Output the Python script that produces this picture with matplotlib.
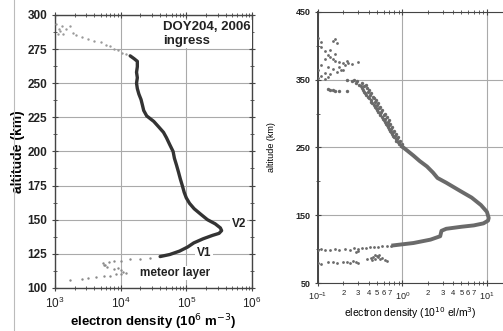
import numpy as np
import matplotlib.pyplot as plt
from matplotlib.ticker import LogLocator, FuncFormatter, MultipleLocator, NullFormatter

plt.rcParams['font.family'] = ['Liberation Sans', 'DejaVu Sans']

# ---- left panel: DOY204, 2006 ingress (density in 1e6 m^-3) ----
top_sparse_ne = [1.05e3, 1.15e3, 1.3e3, 1.2e3, 1.5e3, 1.7e3, 1.35e3, 1.9e3, 2.1e3, 1.1e3,
                 2.6e3, 3.2e3, 4.0e3, 5.0e3, 6.0e3, 7.0e3, 8.0e3, 9.0e3, 1.05e4, 1.2e4]
top_sparse_alt = [293, 290, 292, 288, 290, 292, 286, 287, 285, 286,
                  284, 282, 281, 280, 278, 277, 275, 274, 272, 271]

core_ne = [1.4e4, 1.6e4, 1.8e4, 1.8e4, 1.75e4, 1.8e4, 1.75e4, 1.8e4, 1.9e4, 2.05e4,
           2.15e4, 2.25e4, 2.5e4, 3.2e4, 3.8e4, 4.5e4, 5.0e4, 5.6e4, 6.3e4, 6.6e4,
           7.1e4, 7.6e4, 8.1e4, 8.7e4, 9.3e4, 1.0e5, 1.12e5, 1.32e5, 1.66e5, 2.1e5,
           2.75e5, 3.3e5, 3.45e5, 3.15e5, 2.5e5, 1.8e5, 1.3e5, 1.05e5, 7.9e4, 5.6e4, 4.0e4]
core_alt = [270, 268, 266, 262, 258, 254, 250, 246, 242, 238,
            234, 230, 226, 222, 218, 214, 210, 205, 200, 195,
            190, 185, 180, 175, 170, 166, 162, 158, 154, 150,
            147, 144, 142, 140, 138.5, 136, 133, 130, 127, 124.5, 123]

low_sparse_ne = [2.8e4, 2.0e4, 1.4e4, 1.0e4, 8.0e3, 6.6e3, 5.4e3, 5.8e3, 6.2e3, 5.6e3,
                 8.0e3, 9.0e3, 1.0e4, 1.1e4, 1.2e4, 1.0e4, 8.5e3, 7.0e3, 5.6e3, 4.2e3,
                 3.2e3, 2.6e3, 1.7e3]
low_sparse_alt = [122, 121.5, 121, 120, 119.5, 119, 118, 116.5, 115.5, 117,
                  114, 114.5, 113, 112, 111, 110.5, 110, 109, 108.5, 108,
                  107, 106.5, 106]

# ---- right panel (density in 1e10 el/m^3) ----
r_top_ne = [0.10, 0.11, 0.16, 0.17, 0.15, 0.11, 0.12, 0.13, 0.14, 0.16, 0.12, 0.14,
            0.16, 0.18, 0.20, 0.22, 0.25, 0.30, 0.11, 0.13, 0.15, 0.17, 0.19, 0.10,
            0.12, 0.11, 0.13, 0.10, 0.14, 0.12, 0.18, 0.21, 0.23, 0.15, 0.20]
r_top_alt = [411, 406, 410, 404, 407, 398, 392, 386, 394, 388, 380, 383,
             378, 376, 374, 377, 373, 376, 372, 368, 366, 362, 364, 365,
             360, 356, 354, 352, 358, 351, 369, 371, 375, 381, 365]

r_band_ne = [0.22, 0.27, 0.29, 0.25, 0.33, 0.28, 0.31, 0.37, 0.35, 0.32,
             0.38, 0.33, 0.34, 0.40, 0.39, 0.35, 0.36, 0.43, 0.41, 0.37,
             0.39, 0.45, 0.46, 0.40, 0.42, 0.49, 0.47, 0.43, 0.44, 0.52,
             0.50, 0.46, 0.47, 0.55, 0.53, 0.49, 0.50, 0.58, 0.56, 0.52,
             0.54, 0.62, 0.60, 0.55, 0.58, 0.66, 0.63, 0.59, 0.61, 0.70,
             0.67, 0.62, 0.64, 0.72, 0.70, 0.66, 0.67, 0.76, 0.73, 0.69,
             0.71, 0.80, 0.77, 0.73, 0.75, 0.84, 0.81, 0.78, 0.80, 0.88,
             0.86, 0.83, 0.85, 0.93, 0.91, 0.88, 0.92, 0.99, 0.97, 0.95,
             0.14, 0.16, 0.18, 0.22, 0.13, 0.15]
r_band_alt = [350, 350, 347.5, 347.5, 345, 345, 342.5, 342.5, 340, 340,
              337.5, 337.5, 335, 335, 332.5, 332.5, 330, 330, 327.5, 327.5,
              325, 325, 322.5, 322.5, 320, 320, 317.5, 317.5, 315, 315,
              312.5, 312.5, 310, 310, 307.5, 307.5, 305, 305, 302.5, 302.5,
              300, 300, 297.5, 297.5, 295, 295, 292.5, 292.5, 290, 290,
              287.5, 287.5, 285, 285, 282.5, 282.5, 280, 280, 277.5, 277.5,
              275, 275, 272.5, 272.5, 270, 270, 267.5, 267.5, 265, 265,
              262.5, 262.5, 260, 260, 257.5, 257.5, 255, 255, 252.5, 252.5,
              335, 334, 334, 333, 336, 335]

r_core_ne = [1.0, 1.15, 1.35, 1.6, 1.95, 2.3, 2.6, 3.3, 4.8, 6.6, 8.5, 10.0, 10.5, 10.3, 9.1,
             7.0, 5.0, 3.3, 2.9, 2.8, 2.15, 1.35, 0.78]
r_core_alt = [251, 245, 238, 230, 222, 213, 205, 198, 186, 176, 165, 155, 146, 142, 138,
              135, 133, 130, 127, 119, 114, 109, 105.5]

r_low_ne = [0.10, 0.11, 0.12, 0.14, 0.16, 0.18, 0.21, 0.24, 0.27, 0.30, 0.28, 0.30,
            0.33, 0.37, 0.41, 0.46, 0.52, 0.58, 0.65, 0.73,
            0.10, 0.11, 0.13, 0.15, 0.17, 0.20, 0.22, 0.24, 0.26, 0.28, 0.30,
            0.38, 0.42, 0.45, 0.48, 0.50, 0.52, 0.55, 0.58, 0.62, 0.66, 0.44, 0.47, 0.53]
r_low_alt = [99, 99.5, 98.5, 99, 99.5, 98, 100, 99, 101, 100, 96, 97,
             101.5, 102, 102.5, 103, 103.5, 104, 104.5, 105,
             80, 78, 80.5, 81, 79.5, 80.5, 81.5, 80, 82, 81, 80,
             85, 87, 89, 86, 90, 88, 85, 87, 84, 83, 84, 91, 92]

fig = plt.figure(figsize=(5.03, 3.31), dpi=100)
fig.patch.set_facecolor('white')

spine_col = '#444444'
grid_col = '#aaaaaa'

# ---------- left ----------
ax1 = fig.add_axes([0.109, 0.130, 0.392, 0.825])
ax1.set_xscale('log')
ax1.set_xlim(1e3, 1e6)
ax1.set_ylim(100, 300)
ax1.scatter(top_sparse_ne, top_sparse_alt, s=3, color='#9a9a9a', lw=0, zorder=3)
ax1.plot(core_ne, core_alt, color='#333333', lw=2.4, zorder=4, solid_capstyle='round')
ax1.scatter(low_sparse_ne, low_sparse_alt, s=3, color='#8a8a8a', lw=0, zorder=3)

ax1.yaxis.set_major_locator(MultipleLocator(25))
ax1.yaxis.set_minor_locator(MultipleLocator(12.5))
ax1.xaxis.set_major_locator(LogLocator(base=10, numticks=10))
ax1.xaxis.set_minor_locator(LogLocator(base=10, subs=np.arange(2, 10), numticks=10))
ax1.xaxis.set_minor_formatter(NullFormatter())
ax1.grid(True, which='major', color=grid_col, lw=0.8)
ax1.tick_params(which='both', direction='inout', top=True, right=True, colors=spine_col,
                labelcolor='#222222', labelsize=8.5)
ax1.tick_params(which='major', length=5, pad=3)
ax1.tick_params(which='minor', length=3)
for lab in ax1.get_yticklabels():
    lab.set_fontweight('bold')
for s in ax1.spines.values():
    s.set_color(spine_col)
    s.set_linewidth(1.0)
ax1.set_ylabel('altitude (km)', fontsize=10, fontweight='bold', labelpad=2)
ax1.set_xlabel('electron density (10$^{6}$ m$^{-3}$)', fontsize=9.5, fontweight='bold', labelpad=1)

bbox = dict(facecolor='white', edgecolor='none', pad=1)
ax1.text(4.4e4, 286, 'DOY204, 2006\ningress', fontsize=9.5, fontweight='bold',
         va='center', ha='left', bbox=bbox, linespacing=1.2, color='#222222')
ax1.text(4.9e5, 147, 'V2', fontsize=8.5, fontweight='bold', va='center', bbox=bbox, color='#222222')
ax1.text(1.45e5, 125.5, 'V1', fontsize=8.5, fontweight='bold', va='center', bbox=bbox, color='#222222')
ax1.text(2.0e4, 111, 'meteor layer', fontsize=8.5, fontweight='bold', va='center', bbox=bbox,
         color='#222222')

# ---------- right ----------
ax2 = fig.add_axes([0.632, 0.145, 0.368, 0.819])
ax2.set_xscale('log')
ax2.set_xlim(0.1, 15.5)
ax2.set_ylim(50, 450)
dot_col = '#6a6a6a'
ax2.scatter(r_top_ne, r_top_alt, s=4, color=dot_col, lw=0, zorder=3)
ax2.scatter(r_band_ne, r_band_alt, s=6, color=dot_col, lw=0, zorder=3)
ax2.plot(r_core_ne, r_core_alt, color=dot_col, lw=2.8, zorder=4)
ax2.scatter(r_low_ne, r_low_alt, s=4, color=dot_col, lw=0, zorder=3)

ax2.yaxis.set_major_locator(MultipleLocator(100, offset=50))
ax2.yaxis.set_minor_locator(MultipleLocator(50))
ax2.xaxis.set_major_locator(LogLocator(base=10, numticks=10))
ax2.xaxis.set_minor_locator(LogLocator(base=10, subs=np.arange(2, 10), numticks=10))


def minor_fmt(v, pos):
    m = int(round(v / 10 ** np.floor(np.log10(v) + 1e-9)))
    return str(m) if 2 <= m <= 7 else ''


ax2.xaxis.set_minor_formatter(FuncFormatter(minor_fmt))
ax2.grid(True, which='major', color=grid_col, lw=0.8)
ax2.tick_params(which='both', direction='inout', top=True, colors=spine_col,
                labelcolor='#222222', labelsize=6.5)
ax2.tick_params(which='major', length=4)
ax2.tick_params(which='minor', length=3, labelsize=5.5)
for lab in ax2.get_yticklabels():
    lab.set_fontweight('bold')
for s in ax2.spines.values():
    s.set_color(spine_col)
ax2.spines['left'].set_linewidth(1.4)
ax2.spines['right'].set_visible(False)
ax2.set_ylabel('altitude (km)', fontsize=6.5, labelpad=14)
ax2.set_xlabel('electron density (10$^{10}$ el/m$^{3}$)', fontsize=7.5, labelpad=2)

# scan border line at far left
fig.add_artist(plt.Line2D([0.027, 0.027], [0.0, 1.0], color='#bbbbbb', lw=0.8))

fig.savefig('out.png', dpi=100)
